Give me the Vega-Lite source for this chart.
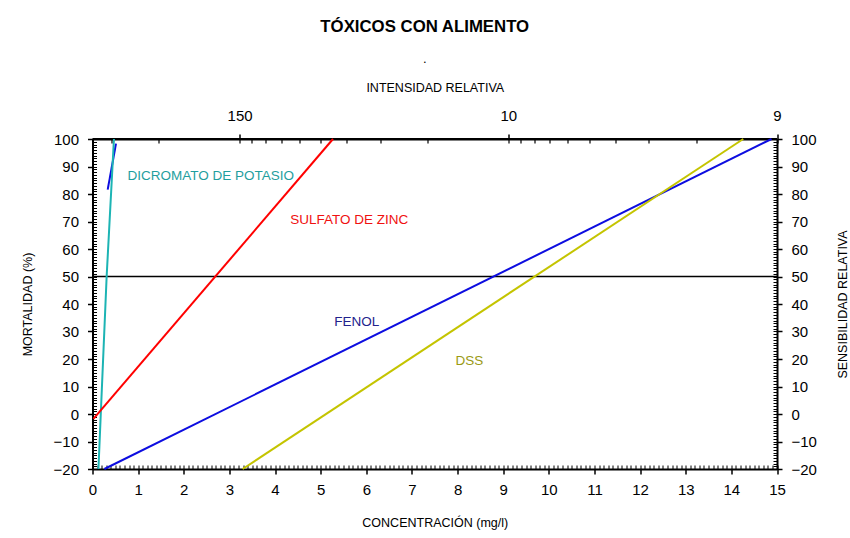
{
  "$schema": "https://vega.github.io/schema/vega-lite/v6.json",
  "width": 684.5,
  "height": 330,
  "autosize": {"type": "none"},
  "padding": {"left": 92.5, "top": 139, "right": 73, "bottom": 69},
  "background": "white",
  "config": {
    "font": "Liberation Sans",
    "view": {"stroke": null},
    "axis": {
      "grid": false,
      "domainColor": "black",
      "domainWidth": 2,
      "tickColor": "black",
      "tickWidth": 1.5,
      "labelColor": "black",
      "labelFontSize": 15,
      "labelFlush": false,
      "labelOverlap": false,
      "titleColor": "black",
      "titleFontSize": 12.5,
      "titleFontWeight": "normal"
    }
  },
  "title": {
    "text": "TÓXICOS CON ALIMENTO",
    "subtitle": ".",
    "fontSize": 16.8,
    "fontWeight": "bold",
    "color": "black",
    "subtitleFontSize": 13,
    "subtitleColor": "black",
    "subtitlePadding": 17,
    "anchor": "middle",
    "dx": -10,
    "offset": 15
  },
  "datasets": {
    "curvas": [
      {"serie": "Dicromato (serie 2)", "concentracion": 0.333, "mortalidad": 81.6},
      {"serie": "Dicromato (serie 2)", "concentracion": 0.515, "mortalidad": 98.3},
      {"serie": "Dicromato de potasio", "concentracion": 0.13, "mortalidad": -20},
      {"serie": "Dicromato de potasio", "concentracion": 0.31, "mortalidad": 50},
      {"serie": "Dicromato de potasio", "concentracion": 0.47, "mortalidad": 100},
      {"serie": "Sulfato de zinc", "concentracion": 0.02, "mortalidad": -1.8},
      {"serie": "Sulfato de zinc", "concentracion": 5.27, "mortalidad": 100},
      {"serie": "Fenol", "concentracion": 0.26, "mortalidad": -20},
      {"serie": "Fenol", "concentracion": 14.88, "mortalidad": 100},
      {"serie": "DSS", "concentracion": 3.29, "mortalidad": -20},
      {"serie": "DSS", "concentracion": 14.26, "mortalidad": 100}
    ],
    "etiquetas": [
      {"serie": "Dicromato de potasio", "texto": "DICROMATO DE POTASIO", "concentracion": 2.593, "mortalidad": 86.6},
      {"serie": "Sulfato de zinc", "texto": "SULFATO DE ZINC", "concentracion": 5.628, "mortalidad": 70.4},
      {"serie": "Fenol", "texto": "FENOL", "concentracion": 5.79, "mortalidad": 33.6},
      {"serie": "DSS", "texto": "DSS", "concentracion": 8.258, "mortalidad": 19.1}
    ],
    "referencias": [
      {"nivel": 50, "desde": 352.7, "hasta": 1},
      {"nivel": 100, "desde": 352.7, "hasta": 1}
    ]
  },
  "resolve": {"scale": {"x": "independent", "y": "independent", "color": "independent"}},
  "layer": [
    {
      "data": {"name": "referencias"},
      "transform": [{"filter": "datum.nivel == 50"}],
      "mark": {"type": "rule", "color": "black", "strokeWidth": 1.5},
      "encoding": {
        "x": {
          "field": "desde", "type": "quantitative",
          "scale": {"type": "log", "domain": [352.7, 1]},
          "axis": {
            "orient": "top",
            "values": [100, 10, 1],
            "labelExpr": "datum.value == 100 ? '150' : datum.value == 10 ? '10' : '9'",
            "tickSize": 5,
            "labelPadding": 11,
            "title": "INTENSIDAD RELATIVA",
            "titlePadding": 14
          }
        },
        "x2": {"field": "hasta"},
        "y": {
          "field": "nivel", "type": "quantitative",
          "scale": {"domain": [-20, 100], "nice": false, "zero": false},
          "axis": {
            "orient": "left",
            "values": [-20, -10, 0, 10, 20, 30, 40, 50, 60, 70, 80, 90, 100],
            "tickSize": 5,
            "labelPadding": 9,
            "title": "MORTALIDAD (%)",
            "titlePadding": 19
          }
        }
      }
    },
    {
      "data": {"name": "referencias"},
      "transform": [{"filter": "datum.nivel == 100"}],
      "mark": {"type": "rule", "color": "black", "strokeWidth": 2},
      "encoding": {
        "x": {
          "field": "desde", "type": "quantitative",
          "scale": {"type": "log", "domain": [352.7, 1]},
          "axis": {
            "orient": "top",
            "values": [300, 200, 100, 90, 80, 70, 60, 50, 40, 30, 20, 10, 9, 8, 7, 6, 5, 4, 3, 2, 1],
            "tickSize": -4,
            "tickWidth": 1.2,
            "labels": false,
            "domain": false,
            "title": null
          }
        },
        "x2": {"field": "hasta"},
        "y": {
          "field": "nivel", "type": "quantitative",
          "scale": {"domain": [-20, 100], "nice": false, "zero": false},
          "axis": {
            "orient": "left",
            "tickCount": 120,
            "tickSize": -4,
            "tickWidth": 1,
            "labels": false,
            "domain": false,
            "title": null
          }
        }
      }
    },
    {
      "data": {"name": "curvas"},
      "mark": {"type": "line", "strokeWidth": 2},
      "encoding": {
        "x": {
          "field": "concentracion", "type": "quantitative",
          "scale": {"domain": [0, 15], "nice": false, "zero": false},
          "axis": {
            "orient": "bottom",
            "values": [0, 1, 2, 3, 4, 5, 6, 7, 8, 9, 10, 11, 12, 13, 14, 15],
            "tickSize": 5,
            "labelPadding": 8,
            "title": "CONCENTRACIÓN (mg/l)",
            "titlePadding": 19
          }
        },
        "y": {
          "field": "mortalidad", "type": "quantitative",
          "scale": {"domain": [-20, 100], "nice": false, "zero": false},
          "axis": {
            "orient": "right",
            "values": [-20, -10, 0, 10, 20, 30, 40, 50, 60, 70, 80, 90, 100],
            "tickSize": 5,
            "labelPadding": 9,
            "title": "SENSIBILIDAD RELATIVA",
            "titleAngle": 270,
            "titlePadding": 33
          }
        },
        "color": {
          "field": "serie", "type": "nominal", "legend": null,
          "scale": {
            "domain": ["Dicromato (serie 2)", "Dicromato de potasio", "Sulfato de zinc", "Fenol", "DSS"],
            "range": ["#0d0de0", "#1cb4b4", "#ff0000", "#0d0de0", "#c4c400"]
          }
        },
        "order": {"field": "concentracion", "type": "quantitative"}
      }
    },
    {
      "data": {"name": "etiquetas"},
      "mark": {"type": "text", "align": "center", "baseline": "middle", "fontSize": 13.5},
      "encoding": {
        "x": {
          "field": "concentracion", "type": "quantitative",
          "scale": {"domain": [0, 15], "nice": false, "zero": false},
          "axis": {
            "orient": "bottom",
            "tickCount": 150,
            "tickSize": -4,
            "tickWidth": 1,
            "labels": false,
            "domain": false,
            "title": null
          }
        },
        "y": {
          "field": "mortalidad", "type": "quantitative",
          "scale": {"domain": [-20, 100], "nice": false, "zero": false},
          "axis": {
            "orient": "right",
            "tickCount": 120,
            "tickSize": -4,
            "tickWidth": 1,
            "labels": false,
            "domain": false,
            "title": null
          }
        },
        "text": {"field": "texto"},
        "color": {
          "field": "serie", "type": "nominal", "legend": null,
          "scale": {
            "domain": ["Dicromato de potasio", "Sulfato de zinc", "Fenol", "DSS"],
            "range": ["#1f9e9e", "#f01010", "#22228c", "#9a9a12"]
          }
        }
      }
    }
  ]
}
